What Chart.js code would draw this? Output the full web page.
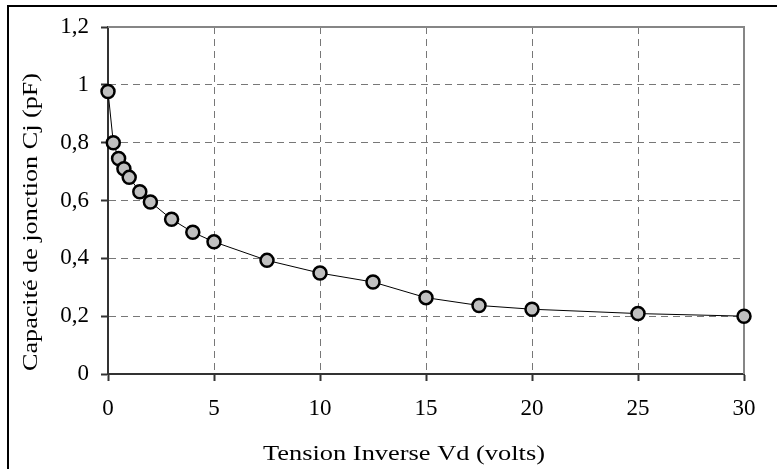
<!DOCTYPE html>
<html>
<head>
<meta charset="utf-8">
<script src="https://cdn.jsdelivr.net/npm/chart.js@4"></script>
<style>
  html, body { margin: 0; padding: 0; background: #fff; overflow: hidden; }
  #wrap { position: relative; width: 777px; height: 469px; }
  #frame { position: absolute; left: 7px; top: 5px; width: 800px; height: 500px; border: 2px solid #000; box-sizing: border-box; pointer-events: none; }
</style>
</head>
<body>
<div id="wrap">
  <canvas id="capChart" width="777" height="469"></canvas>
  <div id="frame"></div>
</div>
<script>
// Capacité de jonction vs tension inverse

// data
const voltage = [0, 0.25, 0.5, 0.75, 1, 1.5, 2, 3, 4, 5, 7.5, 10, 12.5, 15, 17.5, 20, 25, 30];
const capacity = [0.977, 0.8, 0.745, 0.71, 0.68, 0.63, 0.595, 0.535, 0.49, 0.457, 0.393, 0.349, 0.318, 0.264, 0.237, 0.224, 0.209, 0.2];
const yTickLabels = ['0', '0,2', '0,4', '0,6', '0,8', '1', '1,2'];
const xTickLabels = ['0', '5', '10', '15', '20', '25', '30'];
const xTitle = 'Tension Inverse Vd (volts)';
const yTitle = 'Capacité de jonction Cj (pF)';

// style
const serif = '"Liberation Serif", "Times New Roman", serif';
const dark = '#333';
const frameGrey = '#868686';
const dashGrey = '#777';

// top/right grey frame of the plot area + axis titles (the original text runs a bit wide)
const framePlugin = {
  id: 'framePlugin',
  beforeDatasetsDraw(chart) {
    const { ctx, chartArea: a } = chart;
    ctx.save();
    ctx.strokeStyle = frameGrey;
    ctx.lineWidth = 2;
    ctx.beginPath();
    ctx.moveTo(a.left, a.top);
    ctx.lineTo(a.right, a.top);
    ctx.lineTo(a.right, a.bottom);
    ctx.stroke();
    ctx.restore();
  },
  afterDraw(chart) {
    const { ctx } = chart;
    ctx.save();
    ctx.fillStyle = '#000';
    ctx.font = '22px ' + serif;
    ctx.textAlign = 'center';
    ctx.textBaseline = 'middle';
    ctx.save();
    ctx.translate(404, 454);
    ctx.scale(1.2, 1);
    ctx.fillText(xTitle, 0, 0);
    ctx.restore();
    ctx.translate(31, 222);
    ctx.rotate(-Math.PI / 2);
    ctx.scale(1.19, 1);
    ctx.fillText(yTitle, 0, 0);
    ctx.restore();
  }
};

new Chart(document.getElementById('capChart'), {
  type: 'line',
  data: {
    labels: voltage,
    datasets: [{
      data: voltage.map((v, i) => ({ x: v, y: capacity[i] })),
      borderColor: '#000',
      borderWidth: 1,
      tension: 0,
      pointRadius: 6.5,
      pointHoverRadius: 6.5,
      pointBorderWidth: 2.5,
      pointBackgroundColor: '#c0c0c0',
      pointBorderColor: '#000',
      clip: false
    }]
  },
  options: {
    responsive: false,
    animation: false,
    events: [],
    layout: { padding: { top: 27, right: 33, left: 0, bottom: 0 } },
    plugins: { legend: { display: false }, tooltip: { enabled: false } },
    scales: {
      x: {
        type: 'linear',
        min: 0, max: 30,
        afterFit: s => { s.height = 95; },
        ticks: {
          stepSize: 5,
          color: '#000',
          font: { family: serif, size: 23 },
          padding: 14,
          maxRotation: 0,
          callback: (v, i) => xTickLabels[i]
        },
        grid: {
          color: c => (c.tick && (c.tick.value === 0 || c.tick.value === 30)) ? 'rgba(0,0,0,0)' : dashGrey,
          tickColor: dark,
          tickWidth: 2,
          tickLength: 7
        },
        border: { color: dark, width: 2, dash: [7, 5] }
      },
      y: {
        min: 0, max: 1.2,
        afterFit: s => { s.width = 108; },
        ticks: {
          stepSize: 0.2,
          color: '#000',
          font: { family: serif, size: 23 },
          padding: 12,
          callback: (v, i) => yTickLabels[i]
        },
        grid: {
          color: c => (c.tick && (c.index === 0 || c.index === yTickLabels.length - 1)) ? 'rgba(0,0,0,0)' : dashGrey,
          tickColor: dark,
          tickWidth: 2,
          tickLength: 7
        },
        border: { color: dark, width: 2, dash: [7, 5] }
      }
    }
  },
  plugins: [framePlugin]
});
</script>
</body>
</html>
